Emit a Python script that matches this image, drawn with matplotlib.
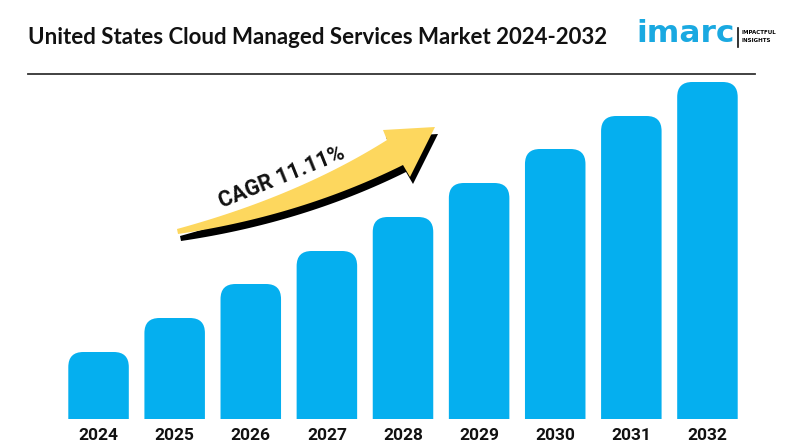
import numpy as np
import matplotlib
matplotlib.use("Agg")
import matplotlib.pyplot as plt
from matplotlib.patches import FancyBboxPatch, Polygon

years = ["2024", "2025", "2026", "2027", "2028", "2029", "2030", "2031", "2032"]
# relative market size (no axis in the source)
values = [6.7, 10.1, 13.5, 16.8, 20.2, 23.6, 27.0, 30.3, 33.7]
title = "United States Cloud Managed Services Market 2024-2032"
cagr_label = "CAGR 11.11%"

W, H = 800, 447
bar_color = "#05AFEF"
arrow_yellow = "#FDD75E"

fig = plt.figure(figsize=(W / 100, H / 100), dpi=100)


def px(x, y):
    # pixel (from top-left) -> figure fraction
    return (x / W, 1 - y / H)


ax = fig.add_axes([60.5 / W, (H - 419) / H, 685 / W, (419 - 75) / H])
ax.set_xlim(-0.5, len(years) - 0.5)
ax.set_ylim(0, 34.4)
ax.axis("off")

# rounded top corners, radius ~15px
bbox = ax.get_position()
ax_w_px = bbox.width * W
ax_h_px = bbox.height * H
x_per_px = (len(years)) / ax_w_px
y_per_px = 34.4 / ax_h_px
aspect = y_per_px / x_per_px
r = 15 * x_per_px
bw = 0.795
for i, v in enumerate(values):
    rr = r * aspect
    p = FancyBboxPatch((i - bw / 2, -rr), bw, v + rr,
                       boxstyle=f"round,pad=0,rounding_size={r}",
                       mutation_aspect=aspect, fc=bar_color, ec="none")
    ax.add_patch(p)

for i, yr in enumerate(years):
    ax.text(i, -1.6, yr, ha="center", va="center", fontsize=12.5,
            fontweight="bold", family="Roboto", color="#111111", clip_on=False)

# title + rule
fig.text(*px(28, 38), title, fontsize=16, fontweight="bold", family="Lato",
         va="center", ha="left", color="#111111")
fig.add_artist(plt.Line2D([28 / W, 755 / W], [1 - 74 / H, 1 - 74 / H],
                          color="#333333", lw=1.3))

# logo
fig.text(*px(636, 42), "imarc", fontsize=22.5, fontweight="bold", family="DejaVu Sans",
         color="#1AA9E1", va="baseline", ha="left")
fig.add_artist(plt.Line2D([738 / W, 738 / W], [1 - 28 / H, 1 - 47 / H],
                          color="#111111", lw=1.2))
fig.text(*px(742, 33), "IMPACTFUL", fontsize=4.0, fontweight="bold",
         family="DejaVu Sans", va="center", ha="left")
fig.text(*px(742, 41), "INSIGHTS", fontsize=4.0, fontweight="bold",
         family="DejaVu Sans", va="center", ha="left")


# arrow (decoration)
def bez(p0, c, p2, n=40):
    t = np.linspace(0, 1, n)[:, None]
    p0, c, p2 = map(np.array, (p0, c, p2))
    return (1 - t) ** 2 * p0 + 2 * (1 - t) * t * c + t ** 2 * p2


upper = bez((177, 229), (298, 196), (387, 140))
lower = bez((178, 234), (300, 216), (403, 165))
head = np.array([(383, 130), (435, 127), (410, 177)])
shape = np.vstack([upper, head, lower[::-1]])


def to_fig(pts, dx=0, dy=0):
    return np.column_stack([(pts[:, 0] + dx) / W, 1 - (pts[:, 1] + dy) / H])


fig.add_artist(Polygon(to_fig(shape, 3, 7), closed=True, fc="black", ec="none"))
fig.add_artist(Polygon(to_fig(shape), closed=True, fc=arrow_yellow, ec="none"))
fig.text(*px(282, 177), cagr_label, fontsize=15.5, fontweight="bold", family="Roboto",
         rotation=22, ha="center", va="center", rotation_mode="anchor", color="#111111")

fig.savefig("out.png", dpi=100, facecolor="white")
